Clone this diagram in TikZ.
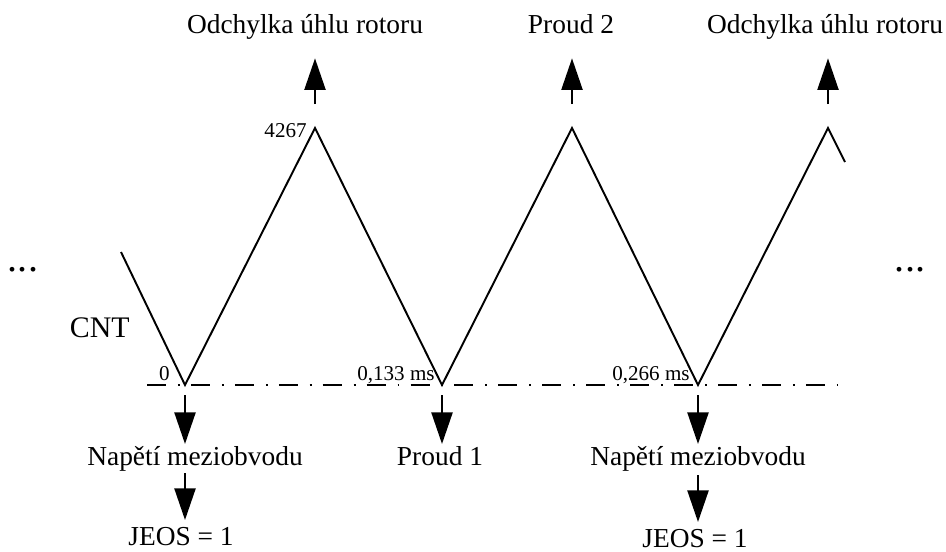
\documentclass[tikz,border=0pt]{standalone}
\usepackage{fontspec}
\setmainfont{Liberation Serif}
\usepackage{tikz}
\usetikzlibrary{arrows.meta,calc}

\begin{document}
\begin{tikzpicture}[x=0.02cm,y=-0.02cm,line cap=butt,
    lbl/.style={font=\fontsize{15.6}{18}\selectfont,inner sep=0pt,anchor=base,
                text height=0.75em,text depth=0pt},
    ticklbl/.style={font=\fontsize{12}{14}\selectfont,inner sep=0pt,anchor=base east},
    wave/.style={line width=1.1pt,line join=miter},
    axisline/.style={line width=1.1pt,dash pattern=on 10.8pt off 6.8pt on 1.1pt off 6.3pt},
    sig/.style={line width=1.2pt,-{Triangle[width=12pt,length=18pt]}}]
        \useasboundingbox (0,0) rectangle (946,551);
        \coordinate (ws) at (121,252);
        \coordinate (v0) at (185,385);
        \coordinate (p0) at (315,128);
        \coordinate (v1) at (442,385);
        \coordinate (p1) at (572,128);
        \coordinate (v2) at (698,385);
        \coordinate (p2) at (828,128);
        \coordinate (we) at (845,162);
        \coordinate (a0) at (147,385);
        \coordinate (a1) at (838,385);
        \draw[axisline] (a0) -- (a1);
        \draw[wave] (ws) -- (v0) -- (p0) -- (v1) -- (p1) -- (v2) -- (p2) -- (we);
        \node[lbl] (o0) at (305,33) {Odchylka úhlu rotoru};
        \node[lbl] (i2) at (571,33) {Proud 2};
        \node[lbl] (o1) at (825,33) {Odchylka úhlu rotoru};
        \node[lbl] (n0) at (195,465) {Napětí meziobvodu};
        \node[lbl] (i1) at (440,465) {Proud 1};
        \node[lbl] (n1) at (698,465) {Napětí meziobvodu};
        \node[lbl] (j0) at (181,545) {JEOS = 1};
        \node[lbl] (j1) at (695,547) {JEOS = 1};
        \node[ticklbl] (tmax) at (307,137) {4267};
        \node[ticklbl] (t0) at (170,380) {0};
        \node[ticklbl] (t1) at (435,380) {0,133 ms};
        \node[ticklbl] (t2) at (690,380) {0,266 ms};
        \node[font=\fontsize{17}{20}\selectfont,inner sep=0pt,anchor=base east] (cnt) at (130,337) {CNT};
        \node[font=\fontsize{22.8}{26}\selectfont,inner sep=0pt,anchor=base] (dl) at (23,271) {...};
        \node[font=\fontsize{22.8}{26}\selectfont,inner sep=0pt,anchor=base] (dr) at (910,271) {...};
        \draw[sig,shorten <=0.48cm,shorten >=0.5cm] (p0) -- (p0 |- o0.south);
        \draw[sig,shorten <=0.48cm,shorten >=0.5cm] (p1) -- (p1 |- i2.south);
        \draw[sig,shorten <=0.48cm,shorten >=0.5cm] (p2) -- (p2 |- o1.south);
        \draw[sig,shorten <=0.2cm,shorten >=0.15cm] (v0) -- (v0 |- n0.north);
        \draw[sig,shorten <=0.2cm,shorten >=0.15cm] (v1) -- (v1 |- i1.north);
        \draw[sig,shorten <=0.2cm,shorten >=0.15cm] (v2) -- (v2 |- n1.north);
        \draw[sig,shorten <=0.16cm,shorten >=0.23cm] (n0.south -| v0) -- (j0.north -| v0);
        \draw[sig,shorten <=0.2cm,shorten >=0.23cm] (n1.south -| v2) -- (j1.north -| v2);
      \end{tikzpicture}
\end{document}
